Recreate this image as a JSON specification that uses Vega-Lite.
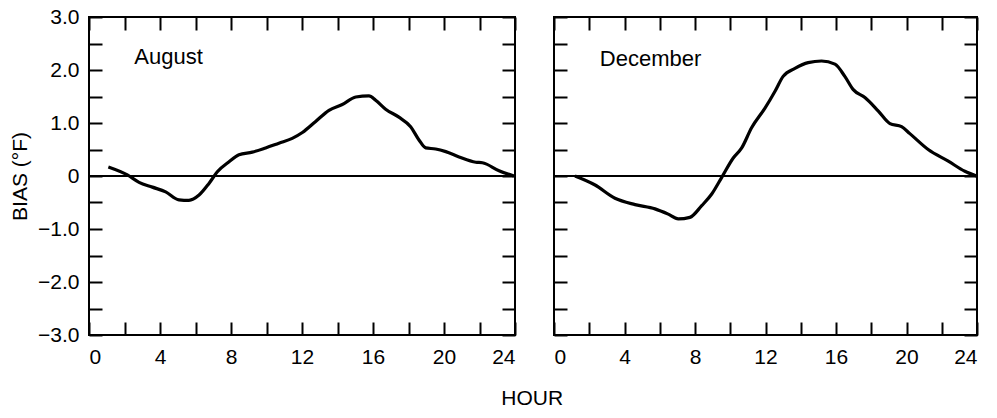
{
  "$schema": "https://vega.github.io/schema/vega-lite/v6.json",
  "autosize": {"type": "pad"},
  "padding": {"left": 8, "top": 5, "right": 0, "bottom": 0},
  "background": "white",
  "config": {
    "view": {"stroke": "black", "strokeWidth": 2},
    "axis": {
      "domain": false, "grid": false, "tickColor": "black", "tickWidth": 2, "tickSize": -13,
      "labelFont": "Liberation Sans", "labelFontSize": 21, "labelColor": "black",
      "titleFont": "Liberation Sans", "titleFontSize": 21, "titleFontWeight": "normal", "titleColor": "black"
    },
    "title": {"font": "Liberation Sans", "fontSize": 21, "fontWeight": "normal", "color": "black"}
  },
  "title": {"text": "HOUR", "orient": "bottom", "anchor": "middle", "offset": 20, "dx": 36},
  "datasets": {
    "aug": [
      {"hour": 1.09, "bias": 0.17}, {"hour": 2.16, "bias": 0.02}, {"hour": 2.82, "bias": -0.12},
      {"hour": 3.57, "bias": -0.21}, {"hour": 4.32, "bias": -0.30}, {"hour": 5.07, "bias": -0.45},
      {"hour": 5.63, "bias": -0.46}, {"hour": 6.20, "bias": -0.36}, {"hour": 6.76, "bias": -0.14},
      {"hour": 7.23, "bias": 0.08}, {"hour": 7.89, "bias": 0.27}, {"hour": 8.45, "bias": 0.40},
      {"hour": 9.20, "bias": 0.45}, {"hour": 9.95, "bias": 0.53}, {"hour": 10.70, "bias": 0.62},
      {"hour": 11.45, "bias": 0.71}, {"hour": 12.02, "bias": 0.82}, {"hour": 12.77, "bias": 1.03},
      {"hour": 13.52, "bias": 1.24}, {"hour": 14.27, "bias": 1.35}, {"hour": 15.03, "bias": 1.49},
      {"hour": 15.77, "bias": 1.51}, {"hour": 16.15, "bias": 1.43}, {"hour": 16.71, "bias": 1.26},
      {"hour": 17.46, "bias": 1.11}, {"hour": 18.12, "bias": 0.93}, {"hour": 18.59, "bias": 0.68},
      {"hour": 18.97, "bias": 0.53}, {"hour": 19.53, "bias": 0.51}, {"hour": 20.10, "bias": 0.46},
      {"hour": 20.85, "bias": 0.36}, {"hour": 21.79, "bias": 0.26}, {"hour": 22.16, "bias": 0.25},
      {"hour": 23.10, "bias": 0.10}, {"hour": 23.94, "bias": 0.0}
    ],
    "dec": [
      {"hour": 1.19, "bias": 0.0}, {"hour": 2.33, "bias": -0.17}, {"hour": 3.46, "bias": -0.42},
      {"hour": 4.6, "bias": -0.54}, {"hour": 5.73, "bias": -0.62}, {"hour": 6.48, "bias": -0.72},
      {"hour": 7.05, "bias": -0.81}, {"hour": 7.71, "bias": -0.78}, {"hour": 8.38, "bias": -0.56},
      {"hour": 8.95, "bias": -0.34}, {"hour": 9.51, "bias": -0.03}, {"hour": 10.17, "bias": 0.34},
      {"hour": 10.65, "bias": 0.53}, {"hour": 11.21, "bias": 0.91}, {"hour": 11.97, "bias": 1.28},
      {"hour": 12.54, "bias": 1.60}, {"hour": 13.0, "bias": 1.88}, {"hour": 13.67, "bias": 2.03},
      {"hour": 14.42, "bias": 2.14}, {"hour": 15.18, "bias": 2.17}, {"hour": 15.94, "bias": 2.11},
      {"hour": 16.5, "bias": 1.88}, {"hour": 16.98, "bias": 1.63}, {"hour": 17.64, "bias": 1.48},
      {"hour": 18.39, "bias": 1.23}, {"hour": 19.06, "bias": 0.99}, {"hour": 19.72, "bias": 0.93},
      {"hour": 20.19, "bias": 0.80}, {"hour": 21.23, "bias": 0.50}, {"hour": 22.37, "bias": 0.28},
      {"hour": 23.31, "bias": 0.09}, {"hour": 23.97, "bias": 0.0}
    ],
    "augLabel": [{"hour": 2.55, "bias": 2.24, "label": "August"}],
    "decLabel": [{"hour": 2.6, "bias": 2.2, "label": "December"}]
  },
  "spacing": 30,
  "hconcat": [
    {
      "width": 426, "height": 318,
      "resolve": {"axis": {"x": "independent", "y": "independent"}},
      "layer": [
        {
          "data": {"name": "aug"},
          "mark": {"type": "line", "color": "black", "strokeWidth": 3.2, "interpolate": "monotone"},
          "encoding": {
            "x": {"field": "hour", "type": "quantitative", "scale": {"domain": [0, 24], "nice": false},
              "axis": {"orient": "bottom", "values": [0,2,4,6,8,10,12,14,16,18,20,22,24], "labelExpr": "datum.value % 4 == 0 ? datum.label : ''", "labelPadding": 24, "title": null}},
            "y": {"field": "bias", "type": "quantitative", "scale": {"domain": [-3, 3], "nice": false},
              "axis": {"orient": "left", "values": [-3,-2.5,-2,-1.5,-1,-0.5,0,0.5,1,1.5,2,2.5,3], "labelExpr": "datum.value % 1 == 0 ? (datum.value == 0 ? '0' : format(datum.value, '.1f')) : ''", "labelPadding": 23, "title": "BIAS (°F)", "titlePadding": 7}}
          }
        },
        {
          "data": {"name": "aug"},
          "mark": {"type": "rule", "color": "black", "strokeWidth": 2},
          "encoding": {"y": {"datum": 0, "type": "quantitative", "axis": null}}
        },
        {
          "data": {"name": "augLabel"},
          "mark": {"type": "text", "align": "left", "baseline": "middle", "font": "Liberation Sans", "fontSize": 22, "color": "black"},
          "encoding": {
            "x": {"field": "hour", "type": "quantitative", "axis": {"orient": "top", "values": [0,2,4,6,8,10,12,14,16,18,20,22,24], "labels": false, "title": null}},
            "y": {"field": "bias", "type": "quantitative", "axis": {"orient": "right", "values": [-3,-2.5,-2,-1.5,-1,-0.5,0,0.5,1,1.5,2,2.5,3], "labels": false, "title": null}},
            "text": {"field": "label"}
          }
        }
      ]
    },
    {
      "width": 423, "height": 318,
      "resolve": {"axis": {"x": "independent", "y": "independent"}},
      "layer": [
        {
          "data": {"name": "dec"},
          "mark": {"type": "line", "color": "black", "strokeWidth": 3.2, "interpolate": "monotone"},
          "encoding": {
            "x": {"field": "hour", "type": "quantitative", "scale": {"domain": [0, 24], "nice": false},
              "axis": {"orient": "bottom", "values": [0,2,4,6,8,10,12,14,16,18,20,22,24], "labelExpr": "datum.value % 4 == 0 ? datum.label : ''", "labelPadding": 24, "title": null}},
            "y": {"field": "bias", "type": "quantitative", "scale": {"domain": [-3, 3], "nice": false},
              "axis": {"orient": "left", "values": [-3,-2.5,-2,-1.5,-1,-0.5,0,0.5,1,1.5,2,2.5,3], "labels": false, "title": null}}
          }
        },
        {
          "data": {"name": "dec"},
          "mark": {"type": "rule", "color": "black", "strokeWidth": 2},
          "encoding": {"y": {"datum": 0, "type": "quantitative", "axis": null}}
        },
        {
          "data": {"name": "decLabel"},
          "mark": {"type": "text", "align": "left", "baseline": "middle", "font": "Liberation Sans", "fontSize": 22, "color": "black"},
          "encoding": {
            "x": {"field": "hour", "type": "quantitative", "axis": {"orient": "top", "values": [0,2,4,6,8,10,12,14,16,18,20,22,24], "labels": false, "title": null}},
            "y": {"field": "bias", "type": "quantitative", "axis": {"orient": "right", "values": [-3,-2.5,-2,-1.5,-1,-0.5,0,0.5,1,1.5,2,2.5,3], "labels": false, "title": null}},
            "text": {"field": "label"}
          }
        }
      ]
    }
  ]
}
